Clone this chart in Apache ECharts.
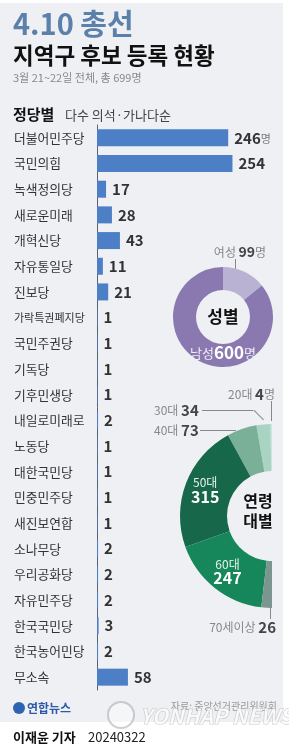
<!DOCTYPE html>
<html>
<head>
<meta charset="utf-8">
<script src="https://cdn.jsdelivr.net/npm/echarts@6/dist/echarts.min.js"></script>
<style>
  html, body { margin: 0; padding: 0; background: #fff; }
  #chart { width: 289px; height: 750px; }
</style>
</head>
<body>
<div id="chart"></div>
<script>
// 정당별 후보 수
var parties = ["더불어민주당", "국민의힘", "녹색정의당", "새로운미래", "개혁신당", "자유통일당", "진보당",
  "가락특권폐지당", "국민주권당", "기독당", "기후민생당", "내일로미래로", "노동당", "대한국민당",
  "민중민주당", "새진보연합", "소나무당", "우리공화당", "자유민주당", "한국국민당", "한국농어민당", "무소속"];
var partyCounts = [246, 254, 17, 28, 43, 11, 21, 1, 1, 1, 1, 2, 1, 1, 1, 1, 2, 2, 2, 3, 2, 58];

// 성별
var genders = ["여성", "남성"];
var genderCounts = [99, 600];

// 연령대별
var ages = ["20대", "30대", "40대", "50대", "60대", "70세이상"];
var ageCounts = [4, 34, 73, 315, 247, 26];

var FONT = '"Noto Sans CJK KR", "Noto Sans", sans-serif';

(function () {
    var myChart = echarts.init(document.getElementById("chart"));

    var genderColors = ["#bab2d3", "#8a79b0"];
    var ageColors = ["#c8e6da", "#a9d4c3", "#79b097", "#17684a", "#15875a", "#7a968f"];

    var ageTotal = ageCounts.reduce(function (a, b) { return a + b; }, 0);
    var ageData = ages.map(function (name, i) {
        var d = { name: name, value: ageCounts[i], itemStyle: { color: ageColors[i] } };
        if (name === "50대" || name === "60대") {
            d.label = { position: "inside" };
        }
        return d;
    });
    // 아래쪽 반원은 비워둠
    ageData.push({
        name: "", value: ageTotal,
        itemStyle: { color: "transparent" },
        label: { show: false },
        emphasis: { disabled: true }, tooltip: { show: false }
    });

    // 지시선 (얇은 사각형)
    function bar(x, y, w, h) {
        return { type: "rect", shape: { x: x, y: y, width: w, height: h }, style: { fill: "#888" } };
    }

    var option = {
        backgroundColor: "#fff",
        textStyle: { fontFamily: FONT },
        animation: false,
        grid: { left: 97, top: 125, width: 160, height: 565 },
        xAxis: { type: "value", min: 0, max: 300, show: false },
        yAxis: {
            type: "category",
            data: parties,
            inverse: true,
            axisLine: { lineStyle: { color: "#5a6272", width: 1 } },
            axisTick: { show: false },
            axisLabel: {
                align: "left", margin: 83,
                formatter: function (v) {
                    return v.length >= 7 ? "{s|" + v + "}" : "{n|" + v + "}";
                },
                rich: {
                    n: { fontSize: 12.8, color: "#333", fontFamily: FONT },
                    s: { fontSize: 11, color: "#333", fontFamily: FONT }
                }
            }
        },
        graphic: [
            { type: "rect", z: -10, shape: { x: 0, y: 3, width: 283, height: 719 }, style: { fill: "#eff0f3" } },
            { type: "text", x: 13, y: 24, style: { text: "4.10 총선", font: "bold 29px " + FONT, fill: "#5b80aa", verticalAlign: "middle" } },
            { type: "text", x: 13, y: 55, style: { text: "지역구 후보 등록 현황", font: "bold 22.5px " + FONT, fill: "#111", verticalAlign: "middle" } },
            { type: "text", x: 13, y: 78, style: { text: "3월 21~22일 전체, 총 699명", font: "11px " + FONT, fill: "#888", verticalAlign: "middle" } },
            { type: "text", x: 13, y: 114, style: { text: "정당별", font: "bold 15px " + FONT, fill: "#111", verticalAlign: "middle" } },
            { type: "text", x: 65, y: 115, style: { text: "다수 의석·가나다순", font: "13px " + FONT, fill: "#444", verticalAlign: "middle" } },
            { type: "text", x: 223, y: 317, style: { text: "성별", font: "bold 17px " + FONT, fill: "#111", align: "center", verticalAlign: "middle" } },
            { type: "text", x: 258, y: 511, style: { text: "연령\n대별", font: "bold 16px " + FONT, fill: "#111", align: "center", verticalAlign: "middle", lineHeight: 20 } },
            bar(235, 259, 1, 15),
            bar(271, 401, 1, 20),
            bar(202, 410, 51, 1),
            { type: "polygon", shape: { points: [[253, 410], [254.4, 410], [264.4, 420], [263, 420]] }, style: { fill: "#888" } },
            bar(200, 430, 36, 1),
            bar(270, 607, 1, 12),
            // 로고
            { type: "circle", shape: { cx: 19, cy: 708, r: 6 }, style: { fill: "#2d62b5" } },
            { type: "text", x: 27, y: 708, style: { text: "연합뉴스", font: "bold 12px " + FONT, fill: "#2d5aa8", verticalAlign: "middle" } },
            { type: "text", x: 277, y: 706, style: { text: "자료: 중앙선거관리위원회", font: "10px " + FONT, fill: "#999", align: "right", verticalAlign: "middle" } },
            { type: "circle", shape: { cx: 121, cy: 715, r: 13 }, style: { fill: "rgba(255,255,255,0.4)", stroke: "rgba(160,160,160,0.5)", lineWidth: 2 } },
            { type: "text", x: 140, y: 716, style: { text: "YONHAP NEWS", font: "italic bold 21px " + FONT, fill: "rgba(255,255,255,0.7)", stroke: "rgba(160,160,160,0.5)", lineWidth: 1, verticalAlign: "middle" } },
            { type: "text", x: 13, y: 737, style: { text: "이재윤 기자", font: "bold 13px " + FONT, fill: "#111", verticalAlign: "middle" } },
            { type: "text", x: 88, y: 737, style: { text: "20240322", font: "13px " + FONT, fill: "#222", verticalAlign: "middle" } }
        ],
        series: [
            {
                type: "bar",
                data: partyCounts,
                barWidth: 17,
                itemStyle: { color: "#4d7fc7" },
                label: {
                    show: true,
                    position: "right",
                    distance: 6,
                    formatter: function (p) {
                        return p.dataIndex === 0 ? "{v|" + p.value + "}{u|명}" : "{v|" + p.value + "}";
                    },
                    rich: {
                        v: { fontSize: 15, fontWeight: "bold", color: "#333", fontFamily: FONT },
                        u: { fontSize: 11, color: "#777", fontFamily: FONT, padding: [2, 0, 0, 0] }
                    }
                }
            },
            {
                type: "pie",
                center: [223, 317],
                radius: [27, 50],
                startAngle: 90,
                silent: true,
                data: genders.map(function (name, i) {
                    return { name: name, value: genderCounts[i], itemStyle: { color: genderColors[i] } };
                }),
                label: {
                    show: true,
                    overflow: "none",
                    formatter: function (p) {
                        return p.dataIndex === 0 ? "{g|" + p.name + " }{n|" + p.value + "}{g|명}"
                            : "{w|" + p.name + "}{wn|" + p.value + "}{w|명}";
                    },
                    rich: {
                        g: { fontSize: 12, color: "#888", fontFamily: FONT },
                        n: { fontSize: 14, fontWeight: "bold", color: "#444", fontFamily: FONT },
                        w: { fontSize: 13, color: "#f0ecf7", fontFamily: FONT },
                        wn: { fontSize: 17, fontWeight: "bold", color: "#fff", fontFamily: FONT }
                    }
                },
                labelLine: { show: false },
                labelLayout: function (p) {
                    if (p.dataIndex === 0) {
                        return { x: 240, y: 252, align: "center", verticalAlign: "middle" };
                    }
                    return { x: 223, y: 353, align: "center", verticalAlign: "middle" };
                }
            },
            {
                type: "pie",
                center: [272, 516],
                radius: [45, 92],
                startAngle: 90,
                clockwise: false,
                silent: true,
                data: ageData,
                label: {
                    show: true,
                    overflow: "none",
                    formatter: function (p) {
                        if (p.name === "50대" || p.name === "60대") {
                            return "{iw|" + p.name + "}\n{ib|" + p.value + "}";
                        }
                        return "{g|" + p.name + " }{n|" + p.value + "}" + (p.dataIndex === 0 ? "{g|명}" : "");
                    },
                    rich: {
                        g: { fontSize: 12, color: "#888", fontFamily: FONT },
                        n: { fontSize: 15, fontWeight: "bold", color: "#444", fontFamily: FONT },
                        iw: { fontSize: 12, color: "#e6f2ec", fontFamily: FONT, align: "center" },
                        ib: { fontSize: 16, fontWeight: "bold", color: "#fff", fontFamily: FONT, align: "center" }
                    }
                },
                labelLine: { show: false },
                labelLayout: function (p) {
                    switch (p.dataIndex) {
                        case 0:
                            return { x: 275, y: 394, align: "right", verticalAlign: "middle" };
                        case 1:
                            return { x: 154, y: 410, align: "left", verticalAlign: "middle" };
                        case 2:
                            return { x: 154, y: 430, align: "left", verticalAlign: "middle" };
                        case 5:
                            return { x: 276, y: 627, align: "right", verticalAlign: "middle" };
                    }
                    return {};
                }
            }
        ]
    };
    myChart.setOption(option);
})();
</script>
</body>
</html>
